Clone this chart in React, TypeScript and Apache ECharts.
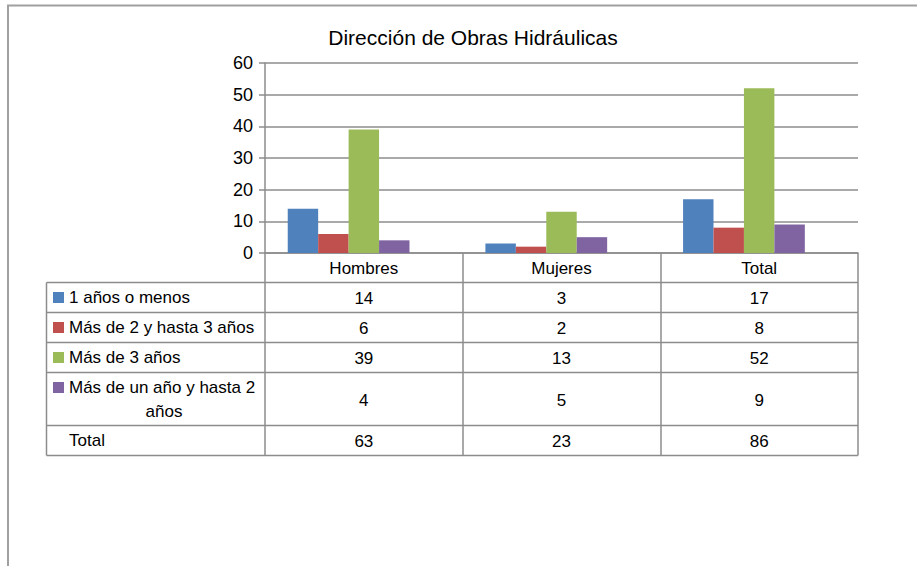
import React, { useEffect, useRef } from "react";
import * as echarts from "echarts";

const title = "Dirección de Obras Hidráulicas";
const categories = ["Hombres", "Mujeres", "Total"];
const seriesNames = [
  "1 años o menos",
  "Más de 2 y hasta 3 años",
  "Más de 3 años",
  "Más de un año y hasta 2 años",
  "Total",
];
const unoOMenos = [14, 3, 17];
const dosATres = [6, 2, 8];
const masDeTres = [39, 13, 52];
const unoADos = [4, 5, 9];
const totalRow = [63, 23, 86];
const seriesValues = [unoOMenos, dosATres, masDeTres, unoADos, totalRow];
const seriesColors = ["#4F81BD", "#C0504D", "#9BBB59", "#8064A2", "transparent"];
const rowLabels = [
  ["1 años o menos"],
  ["Más de 2 y hasta 3 años"],
  ["Más de 3 años"],
  ["Más de un año y hasta 2", "años"],
  ["Total"],
];
const yTicks = { min: 0, max: 60, interval: 10 };

const FONT = "'Liberation Sans', Arial, sans-serif";
const GRID = { left: 265, right: 858, top: 63, bottom: 253 };
const TABLE_LEFT = 46.5;
const ROW_LINES = [282.5, 312.5, 342.5, 372.5, 425.5, 455.5];
const LINE_COLOR = "#8c8c8c";

export default function App() {
  const ref = useRef<HTMLDivElement>(null);
  useEffect(() => {
    if (!ref.current) return;
    const chart = echarts.init(ref.current, undefined, { renderer: "svg" });
    const colW = (GRID.right - GRID.left) / categories.length;
    const graphic: any[] = [];
    // outer frame
    graphic.push({
      type: "polyline",
      shape: { points: [[8, 566], [8, 5.5], [917, 5.5]] },
      style: { stroke: "#a0a0a0", lineWidth: 2, fill: "none" },
      silent: true,
    });
    // table horizontal lines
    ROW_LINES.forEach((y) => {
      graphic.push({
        type: "line",
        shape: { x1: TABLE_LEFT, y1: y, x2: GRID.right, y2: y },
        style: { stroke: LINE_COLOR, lineWidth: 1.5 },
        silent: true,
      });
    });
    graphic.push({
      type: "line",
      shape: { x1: TABLE_LEFT, y1: ROW_LINES[0], x2: TABLE_LEFT, y2: ROW_LINES[ROW_LINES.length - 1] },
      style: { stroke: LINE_COLOR, lineWidth: 1.5 },
      silent: true,
    });
    // rows
    seriesNames.forEach((name, r) => {
      const top = ROW_LINES[r];
      const bottom = ROW_LINES[r + 1];
      const cy = (top + bottom) / 2;
      const lines = rowLabels[r];
      const color = seriesColors[r];
      if (lines.length === 1) {
        if (color !== "transparent") {
          graphic.push({
            type: "rect",
            shape: { x: 53, y: cy - 5.5, width: 11, height: 11 },
            style: { fill: color },
            silent: true,
          });
        }
        graphic.push({
          type: "text",
          x: 69,
          y: cy,
          style: { text: lines[0], font: `17px ${FONT}`, fill: "#000", textAlign: "left", textVerticalAlign: "middle" },
          silent: true,
        });
      } else {
        const y1 = top + 15;
        const y2 = top + 38.5;
        graphic.push({
          type: "rect",
          shape: { x: 53, y: y1 - 5.5, width: 11, height: 11 },
          style: { fill: color },
          silent: true,
        });
        graphic.push({
          type: "text",
          x: 69,
          y: y1,
          style: { text: lines[0], font: `17px ${FONT}`, fill: "#000", textAlign: "left", textVerticalAlign: "middle" },
          silent: true,
        });
        graphic.push({
          type: "text",
          x: 164,
          y: y2,
          style: { text: lines[1], font: `17px ${FONT}`, fill: "#000", textAlign: "center", textVerticalAlign: "middle" },
          silent: true,
        });
      }
      seriesValues[r].forEach((v, c) => {
        graphic.push({
          type: "text",
          x: GRID.left + (c + 0.5) * colW,
          y: cy + 1,
          style: { text: String(v), font: `17px ${FONT}`, fill: "#000", textAlign: "center", textVerticalAlign: "middle" },
          silent: true,
        });
      });
    });

    chart.setOption({
      animation: false,
      backgroundColor: "#fff",
      title: {
        text: title,
        left: 468,
        top: 22,
        textAlign: "center",
        textStyle: { fontFamily: FONT, fontSize: 21, fontWeight: "normal", color: "#000" },
      },
      grid: {
        left: GRID.left,
        top: GRID.top,
        width: GRID.right - GRID.left,
        height: GRID.bottom - GRID.top,
        containLabel: false,
      },
      xAxis: {
        type: "category",
        data: categories,
        boundaryGap: true,
        axisLine: { show: true, lineStyle: { color: LINE_COLOR, width: 1.5 } },
        axisTick: {
          show: true,
          alignWithLabel: false,
          length: ROW_LINES[ROW_LINES.length - 1] - GRID.bottom,
          lineStyle: { color: LINE_COLOR, width: 1.5 },
        },
        axisLabel: { margin: 7, fontFamily: FONT, fontSize: 17, color: "#000" },
      },
      yAxis: {
        type: "value",
        min: yTicks.min,
        max: yTicks.max,
        interval: yTicks.interval,
        axisLine: { show: true, lineStyle: { color: LINE_COLOR, width: 1.5 } },
        axisTick: { show: true, length: 6, lineStyle: { color: LINE_COLOR, width: 1.5 } },
        axisLabel: { margin: 12, fontFamily: FONT, fontSize: 18, color: "#000" },
        splitLine: { show: true, lineStyle: { color: LINE_COLOR, width: 1.5 } },
      },
      series: seriesNames.map((name, i) => ({
        name,
        type: "bar",
        data: seriesValues[i],
        barGap: "0%",
        barCategoryGap: "23%",
        itemStyle: { color: seriesColors[i] },
        silent: i === 4,
        clip: true,
      })),
      graphic,
    });
    return () => chart.dispose();
  }, []);
  return (
    <div
      ref={ref}
      style={{ position: "fixed", left: 0, top: 0, width: 917, height: 566 }}
    />
  );
}
